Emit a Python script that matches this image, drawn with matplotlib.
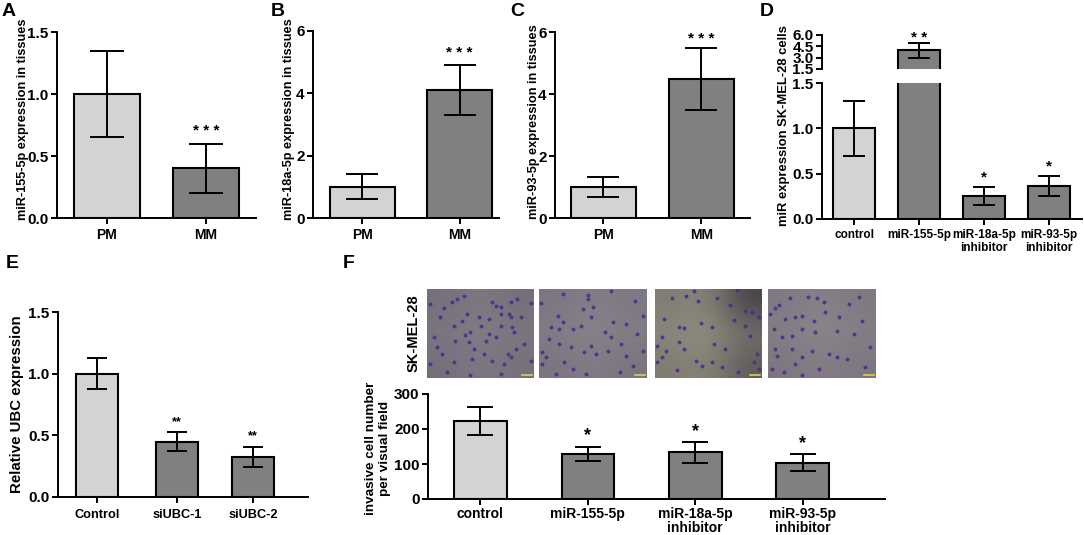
import matplotlib
matplotlib.use('Agg')
import numpy as np
import matplotlib.pyplot as plt

plt.rcParams['font.family'] = ['Liberation Sans', 'DejaVu Sans']
plt.rcParams['font.weight'] = 'bold'

W, H = 1084, 535
LIGHT = '#d3d3d3'
DARK = '#808080'

# bar data, panels A-F
pm_mm = ['PM', 'MM']
a_vals, a_err, a_sig = [1.0, 0.4], [0.35, 0.2], ['', '* * *']
b_vals, b_err, b_sig = [1.0, 4.1], [0.4, 0.8], ['', '* * *']
c_vals, c_err, c_sig = [1.0, 4.5], [0.33, 1.0], ['', '* * *']

d_labels = ['control', 'miR-155-5p', 'miR-18a-5p\ninhibitor', 'miR-93-5p\ninhibitor']
d_vals, d_err, d_sig = [1.0, 4.0, 0.25, 0.36], [0.3, 1.0, 0.1, 0.11], ['', '* *', '*', '*']

e_labels = ['Control', 'siUBC-1', 'siUBC-2']
e_pos = [0, 1, 1.95]
e_vals, e_err, e_sig = [1.0, 0.45, 0.325], [0.125, 0.075, 0.083], ['', '**', '**']

f_labels = ['control', 'miR-155-5p', 'miR-18a-5p\ninhibitor', 'miR-93-5p\ninhibitor']
f_vals, f_err, f_sig = [222, 130, 134, 104], [40, 20, 30, 25], ['', '*', '*', '*']

# micrographs: background tone (3x3 rgb) and stained cells
bg_1 = [[(118, 110, 124), (128, 122, 132), (116, 110, 122)],
        [(124, 118, 130), (132, 126, 134), (124, 118, 128)],
        [(116, 110, 122), (126, 120, 130), (118, 112, 122)]]
bg_2 = [[(124, 118, 130), (132, 126, 136), (126, 120, 130)],
        [(130, 124, 134), (138, 132, 140), (130, 124, 134)],
        [(122, 116, 128), (130, 124, 134), (122, 116, 126)]]
bg_3 = [[(128, 124, 118), (138, 134, 122), (70, 66, 72)],
        [(138, 136, 124), (146, 144, 126), (116, 112, 110)],
        [(126, 124, 114), (136, 134, 120), (92, 90, 88)]]
bg_4 = [[(126, 120, 130), (136, 130, 136), (126, 120, 130)],
        [(132, 126, 134), (140, 134, 140), (132, 126, 134)],
        [(124, 118, 128), (132, 126, 134), (124, 118, 128)]]

cells_1 = [(95, 55), (72, 72), (130, 35), (110, 45), (225, 65), (240, 70), (272, 55), (290, 45), (330, 58),
           (272, 100), (265, 90), (240, 90), (215, 55), (100, 125), (125, 110), (140, 90), (175, 100),
           (205, 105), (240, 125), (275, 130), (280, 145), (300, 100), (150, 145), (135, 152), (205, 150),
           (195, 170), (225, 160), (145, 175), (160, 195), (105, 170), (65, 210), (50, 190), (40, 160),
           (262, 210), (270, 220), (215, 230), (250, 240), (190, 210), (155, 225), (80, 265), (150, 272),
           (240, 270), (330, 230), (60, 100), (30, 60), (310, 180), (285, 195), (100, 235), (30, 240), (180, 125)]
cells_2 = [(365, 58), (430, 30), (505, 32), (505, 45), (575, 22), (490, 75), (520, 70), (415, 95), (430, 115),
           (420, 135), (460, 135), (485, 125), (515, 100), (580, 115), (620, 120), (575, 160), (555, 145),
           (605, 180), (515, 185), (455, 190), (420, 180), (390, 165), (370, 205), (380, 220), (435, 235),
           (495, 205), (530, 210), (620, 215), (460, 255), (410, 270), (565, 200), (370, 240), (500, 270),
           (600, 265), (395, 130), (645, 50), (670, 95), (650, 150), (668, 200), (640, 245)]
cells_3 = [(120, 42), (160, 35), (185, 20), (255, 42), (198, 50), (315, 18), (95, 105), (295, 62), (340, 82),
           (360, 85), (205, 118), (305, 108), (140, 130), (155, 132), (240, 128), (340, 125), (380, 100),
           (88, 160), (140, 175), (280, 195), (245, 180), (355, 155), (75, 185), (100, 200), (90, 218),
           (75, 235), (155, 195), (190, 230), (240, 235), (210, 245), (375, 210), (365, 235), (270, 250),
           (135, 258), (380, 255), (318, 265)]
cells_4 = [(440, 62), (430, 72), (475, 42), (528, 38), (555, 42), (575, 55), (415, 90), (460, 105), (490, 100),
           (510, 95), (545, 110), (580, 85), (620, 100), (425, 135), (480, 155), (510, 135), (550, 145),
           (615, 140), (450, 160), (430, 195), (435, 215), (420, 255), (510, 220), (590, 210), (480, 195),
           (540, 200), (490, 240), (615, 220), (455, 265), (510, 272), (560, 255), (650, 60), (690, 110),
           (665, 150), (715, 190), (645, 225), (700, 250), (680, 40)]


def px_axes(left, top, right, bottom):
    return fig.add_axes([left / W, 1 - bottom / H, (right - left) / W, (bottom - top) / H])


def style(ax, xfs, fs=11, lw=1.4, xpad=3):
    for s in ['top', 'right']:
        ax.spines[s].set_visible(False)
    for s in ['left', 'bottom']:
        ax.spines[s].set_linewidth(lw)
    ax.tick_params(width=lw, length=4, pad=2)
    ax.tick_params(axis='y', labelsize=fs)
    ax.tick_params(axis='x', labelsize=xfs, pad=xpad)
    ax.patch.set_alpha(0)


def bars(ax, pos, vals, errs, width, cap, lw=1.5):
    colors = [LIGHT] + [DARK] * (len(vals) - 1)
    ax.bar(pos, vals, width=width, color=colors, edgecolor='black', linewidth=lw, zorder=2)
    ax.errorbar(pos, vals, yerr=errs, fmt='none', ecolor='black', elinewidth=lw - 0.1,
                capsize=cap, capthick=lw - 0.1, zorder=3)


def stars(ax, pos, vals, errs, sig, gap, fs=11):
    for x, v, e, s in zip(pos, vals, errs, sig):
        if s:
            ax.text(x, v + e + gap, s, ha='center', va='center', fontsize=fs)


def ylab(x, y, s, fs=9.2, weight='bold'):
    fig.text(x / W, 1 - y / H, s, rotation=90, ha='center', va='center', fontsize=fs, fontweight=weight)


fig = plt.figure(figsize=(W / 100, H / 100), dpi=100)

# A
ax = px_axes(57, 32, 256, 218)
bars(ax, [0, 1], a_vals, a_err, 0.66, 12)
stars(ax, [0, 1], a_vals, a_err, a_sig, 0.1)
ax.set_xlim(-0.505, 1.505)
ax.set_ylim(0, 1.5)
ax.set_yticks([0, 0.5, 1.0, 1.5])
ax.set_yticklabels(['0.0', '0.5', '1.0', '1.5'])
ax.set_xticks([0, 1])
ax.set_xticklabels(pm_mm)
style(ax, 10)
ylab(23, 119, 'miR-155-5p expression in tissues')

# B
ax = px_axes(313, 31, 499, 218)
bars(ax, [0, 1], b_vals, b_err, 0.667, 11.6)
stars(ax, [0, 1], b_vals, b_err, b_sig, 0.39)
ax.set_xlim(-0.505, 1.404)
ax.set_ylim(0, 6)
ax.set_yticks([0, 2, 4, 6])
ax.set_xticks([0, 1])
ax.set_xticklabels(pm_mm)
style(ax, 10)
ylab(289, 119, 'miR-18a-5p expression in tissues')

# C
ax = px_axes(555, 32, 750, 218)
bars(ax, [0, 1], c_vals, c_err, 0.667, 11.6)
stars(ax, [0, 1], c_vals, c_err, c_sig, 0.26)
ax.set_xlim(-0.495, 1.5)
ax.set_ylim(0, 6)
ax.set_yticks([0, 2, 4, 6])
ax.set_xticks([0, 1])
ax.set_xticklabels(pm_mm)
style(ax, 10)
ylab(534, 122, 'miR-93-5p expression in tissues')

# D, broken axis
d_pos = np.arange(4)
ax = px_axes(822, 83, 1082, 219)
bars(ax, d_pos, d_vals, d_err, 0.65, 8)
stars(ax, d_pos[2:], d_vals[2:], d_err[2:], d_sig[2:], 0.11)
ax.set_xlim(-0.5, 3.51)
ax.set_ylim(0, 1.5)
ax.set_yticks([0, 0.5, 1.0, 1.5])
ax.set_yticklabels(['0.0', '0.5', '1.0', '1.5'])
ax.set_yticks([1.5], minor=True)
ax.set_xticks(d_pos)
ax.set_xticklabels(d_labels, linespacing=1.1)
style(ax, 8.5)
ax.tick_params(axis='y', which='minor', direction='in', length=4, width=1.4)

ax2 = px_axes(822, 35, 1082, 69)
ax2.bar(d_pos[1], d_vals[1], width=0.65, color=DARK, edgecolor='black', linewidth=1.5, zorder=2)
ax2.errorbar(d_pos[1], d_vals[1], yerr=d_err[1], fmt='none', ecolor='black', elinewidth=1.4,
             capsize=8, capthick=1.4, zorder=3)
ax2.text(d_pos[1], 5.65, d_sig[1], ha='center', va='center', fontsize=11)
ax2.set_xlim(-0.5, 3.51)
ax2.set_ylim(1.5, 6)
ax2.set_yticks([1.5, 3.0, 4.5, 6.0])
ax2.set_yticklabels(['1.5', '3.0', '4.5', '6.0'])
ax2.set_yticks([1.5], minor=True)
ax2.set_xticks([])
style(ax2, 8.5)
ax2.tick_params(axis='y', which='minor', direction='in', length=4, width=1.4)
ax2.spines['bottom'].set_visible(False)
ylab(784, 126, 'miR expression SK-MEL-28 cells', fs=9.4)

# E
ax = px_axes(58, 312, 308, 497)
bars(ax, e_pos, e_vals, e_err, 0.525, 7.4)
stars(ax, e_pos, e_vals, e_err, e_sig, 0.085, fs=9)
ax.set_xlim(-0.4875, 2.64)
ax.set_ylim(0, 1.5)
ax.set_yticks([0, 0.5, 1.0, 1.5])
ax.set_yticklabels(['0.0', '0.5', '1.0', '1.5'])
ax.set_xticks(e_pos)
ax.set_xticklabels(e_labels)
style(ax, 9.2, xpad=5)
ylab(17, 404, 'Relative UBC expression', fs=10.8)

# F
f_pos = np.arange(4)
ax = px_axes(428, 394, 885, 499)
bars(ax, f_pos, f_vals, f_err, 0.49, 9.3)
stars(ax, f_pos, f_vals, f_err, f_sig, 30, fs=13)
ax.set_xlim(-0.488, 3.767)
ax.set_ylim(0, 300)
ax.set_yticks([0, 100, 200, 300])
ax.set_xticks(f_pos)
ax.set_xticklabels(f_labels, linespacing=1.0)
style(ax, 10, xpad=2)
fig.text(378 / W, 1 - 448 / H, 'invasive cell number\nper visual field', rotation=90, ha='center', va='center',
         fontsize=9.7, linespacing=1.3)
ylab(414, 333, 'SK-MEL-28', fs=10.5)

# micrographs
photo_boxes = [(427, 289, 534, 378), (539, 289, 647, 378), (655, 289, 762, 378), (768, 289, 876, 378)]
photo_bg = [bg_1, bg_2, bg_3, bg_4]
photo_cells = [cells_1, cells_2, cells_3, cells_4]
photo_lim = [(20, 340), (360, 681), (68, 390), (408, 732)]
for box, bg, cells, lim in zip(photo_boxes, photo_bg, photo_cells, photo_lim):
    ph = px_axes(*box)
    ph.imshow(np.array(bg, dtype=np.uint8), extent=(lim[0], lim[1], 282, 15), aspect='auto',
              interpolation='bicubic')
    xs, ys = zip(*cells)
    ph.scatter(xs, ys, s=8, color='#4a2a8c', linewidths=0, alpha=0.85)
    ph.plot([lim[1] - 35, lim[1] - 6], [274, 274], color='#e0d040', lw=1.2)
    ph.set_xlim(lim)
    ph.set_ylim(282, 15)
    ph.axis('off')

# panel letters
for s, x, y in [('A', 9, 11), ('B', 278, 11), ('C', 517, 11), ('D', 767, 11), ('E', 12, 264), ('F', 349, 263)]:
    fig.text(x / W, 1 - y / H, s, fontsize=14, ha='center', va='center')

fig.savefig('out.png', dpi=100)
